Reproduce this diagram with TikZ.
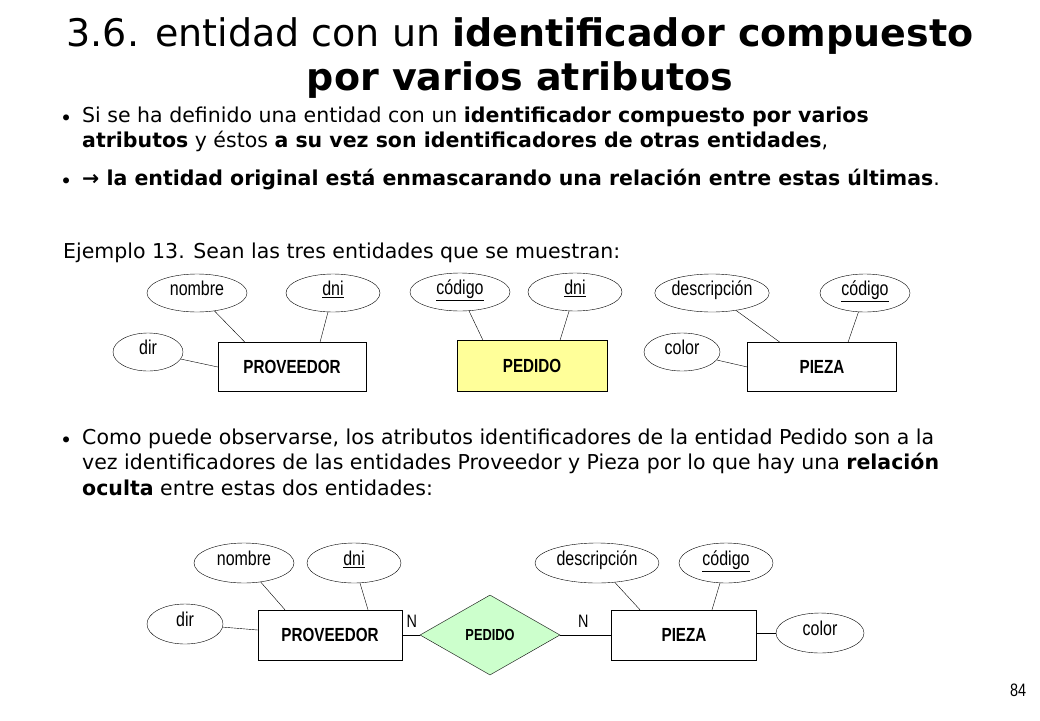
\documentclass[tikz,border=0pt]{standalone}
\usepackage{fontspec}
\setmainfont{DejaVu Sans}
\newfontfamily\narrowfont[FakeStretch=0.8]{Liberation Sans}
\usetikzlibrary{shapes.geometric}
\tikzset{
  attr/.style={draw, ellipse, fill=white, inner sep=0pt, text height=0.8em, text depth=0.3em, font=\narrowfont\fontsize{20}{22}\selectfont},
  entity/.style={draw, fill=white, font=\narrowfont\bfseries\fontsize{19}{21}\selectfont},
  relation/.style={draw, diamond, aspect=1.75, fill=green!20, inner sep=0pt, minimum width=140pt, minimum height=80pt, font=\narrowfont\bfseries\fontsize{16}{18}\selectfont},
  body/.style={anchor=north west, align=left, font=\fontsize{20.5}{25.5}\selectfont, inner sep=0pt},
  bullet/.style={anchor=north west, inner sep=0pt, font=\fontsize{20.5}{25.5}\selectfont}
}
\newcommand{\ul}[1]{\underline{#1}}
\begin{document}
\begin{tikzpicture}[x=1pt, y=-1pt]
    \useasboundingbox (0,0) rectangle (1040,720);

    % Titulo
    \node[align=center, font=\fontsize{38}{44}\selectfont] (titulo) at (520,58)
      {3.6. entidad con un \textbf{identificador compuesto}\\ \textbf{por varios atributos}};

    % Texto
    \node[bullet] (b1) at (60,104) {\strut\raisebox{-0.15em}{•}};
    \node[body] (t1) at (82,104) {\strut Si se ha definido una entidad con un \textbf{identificador compuesto por varios}\\
      \textbf{atributos} y éstos \textbf{a su vez son identificadores de otras entidades},};
    \node[bullet] (b2) at (60,167) {\strut\raisebox{-0.15em}{•}};
    \node[body] (t2) at (82,167) {\strut\textbf{→ la entidad original está enmascarando una relación entre estas últimas}.};
    \node[body] (t3) at (63,240) {\strut Ejemplo 13. Sean las tres entidades que se muestran:};
    \node[bullet] (b3) at (60,426) {\strut\raisebox{-0.15em}{•}};
    \node[body] (t4) at (82,426) {\strut Como puede observarse, los atributos identificadores de la entidad Pedido son a la\\
      vez identificadores de las entidades Proveedor y Pieza por lo que hay una \textbf{relación}\\
      \textbf{oculta} entre estas dos entidades:};

    % Fila superior
    \node[entity, minimum width=148pt, minimum height=49pt] (prov1) at (292,367) {PROVEEDOR};
    \node[attr, minimum width=100pt, minimum height=38pt] (nom1) at (197,293) {nombre};
    \node[attr, minimum width=94pt, minimum height=38pt] (dni1) at (333,293) {\ul{dni}};
    \node[attr, minimum width=70pt, minimum height=38pt] (dir1) at (148,352) {dir};
    \draw (nom1) -- (prov1.north west -| 245,0);
    \draw (dni1) -- (prov1.north west -| 320,0);
    \draw (dir1) -- (prov1.west);

    \node[entity, fill={rgb,255:red,255;green,255;blue,153}, minimum width=150pt, minimum height=51pt] (ped1) at (532,366) {PEDIDO};
    \node[attr, minimum width=100pt, minimum height=38pt] (cod1) at (460,292) {\ul{código}};
    \node[attr, minimum width=94pt, minimum height=38pt] (dni2) at (575,292) {\ul{dni}};
    \draw (cod1) -- (ped1.north west -| 483,0);
    \draw (dni2) -- (ped1.north west -| 560,0);

    \node[entity, minimum width=149pt, minimum height=49pt] (pie1) at (822,367) {PIEZA};
    \node[attr, minimum width=110pt, minimum height=38pt] (des1) at (712,293) {descripción};
    \node[attr, minimum width=90pt, minimum height=38pt] (cod2) at (865,293) {\ul{código}};
    \node[attr, minimum width=76pt, minimum height=38pt] (col1) at (682,352) {color};
    \draw (des1) -- (pie1.north west -| 780,0);
    \draw (cod2) -- (pie1.north west -| 848,0);
    \draw (col1) -- (pie1.west);

    % Fila inferior
    \node[entity, minimum width=144pt, minimum height=50pt] (prov2) at (330,635) {PROVEEDOR};
    \node[relation] (ped2) at (490,635) {PEDIDO};
    \node[entity, minimum width=145pt, minimum height=50pt] (pie2) at (684,635) {PIEZA};
    \node[attr, minimum width=100pt, minimum height=40pt] (nom2) at (244,563) {nombre};
    \node[attr, minimum width=94pt, minimum height=40pt] (dni3) at (354,563) {\ul{dni}};
    \node[attr, minimum width=76pt, minimum height=40pt] (dir2) at (185,624) {dir};
    \node[attr, minimum width=124pt, minimum height=40pt] (des2) at (597,563) {descripción};
    \node[attr, minimum width=94pt, minimum height=40pt] (cod3) at (726,563) {\ul{código}};
    \node[attr, minimum width=88pt, minimum height=40pt] (col2) at (820,633) {color};
    \draw (nom2) -- (prov2.north west -| 285,0);
    \draw (dni3) -- (prov2.north west -| 368,0);
    \draw (dir2) -- (prov2.west |- 0,630);
    \draw (des2) -- (pie2.north west -| 640,0);
    \draw (cod3) -- (pie2.north west -| 712,0);
    \draw (col2) -- (pie2.east |- 0,633);
    \draw (prov2) -- node[pos=0.55, above=4pt, font=\narrowfont\fontsize{18}{20}\selectfont] {N} (ped2);
    \draw (ped2) -- node[pos=0.45, above=4pt, font=\narrowfont\fontsize{18}{20}\selectfont] {N} (pie2);

    \node[font=\narrowfont\fontsize{18}{20}\selectfont] (pag) at (1018,690) {84};
\end{tikzpicture}
\end{document}
